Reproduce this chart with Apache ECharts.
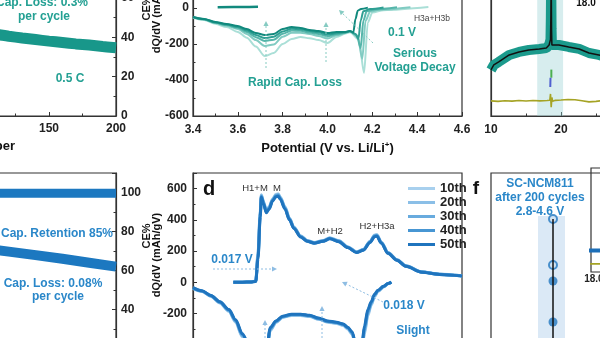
<!DOCTYPE html>
<html>
<head>
<meta charset="utf-8">
<script src="https://cdn.jsdelivr.net/npm/echarts@6/dist/echarts.min.js"></script>
<style>
html,body{margin:0;padding:0;background:#fff;}
#chart{width:600px;height:338px;}
</style>
</head>
<body>
<div id="chart"></div>
<script>
// ---------- Long-term cycling (cycle number vs. capacity / CE) ----------
const cycleTop = [100, 110, 120, 130, 140, 150, 160, 170, 180, 190, 200];
const capTop05C = [42.3, 41.5, 40.5, 39.6, 38.8, 38.0, 37.3, 36.6, 36.0, 35.3, 34.6];
const cycleBot = [100, 120, 140, 160, 180, 200];
const capBot = [71.5, 69.7, 67.9, 66.0, 64.0, 62.0];
const ceBot = [99.6, 99.6, 99.6, 99.6, 99.6, 99.6];

// ---------- dQ/dV, reduction branch (upper panel), 10th..50th cycle ----------
const topPot = [3.40, 3.45, 3.50, 3.55, 3.60, 3.64, 3.68, 3.72, 3.76, 3.80, 3.84, 3.88, 3.92, 3.96, 4.00, 4.04, 4.08, 4.10];
const topDis10 = [-55, -67, -88, -106, -133, -165, -214, -267, -250, -200, -172, -161, -168, -178, -194, -161, -142, -135];
const topDis20 = [-52, -64, -84, -99, -117, -144, -178, -211, -203, -160, -138, -137, -145, -155, -170, -152, -139, -130];
const topDis30 = [-51, -63, -82, -95, -110, -133, -162, -183, -176, -143, -125, -127, -136, -144, -158, -146, -137, -129];
const topDis40 = [-50, -62, -80, -92, -105, -125, -150, -167, -160, -130, -115, -118, -128, -135, -148, -140, -135, -128];
const topDis50 = [-50, -61, -78, -89, -100, -117, -139, -150, -144, -117, -106, -111, -122, -128, -139, -133, -133, -128];
const topTail10 = [[4.14, -175], [4.163, -360], [4.18, -80], [4.20, -25], [4.25, -12], [4.45, 5]];
const topTail20 = [[4.135, -160], [4.155, -282], [4.17, -70], [4.19, -20], [4.23, -10], [4.37, 4]];
const topTail30 = [[4.13, -150], [4.148, -222], [4.16, -70], [4.175, -18], [4.21, -8], [4.31, 4]];
const topTail40 = [[4.125, -145], [4.138, -172], [4.148, -70], [4.16, -18], [4.19, -6], [4.25, 3]];
const topTail50 = [[4.115, -136], [4.125, -60], [4.135, -15], [4.15, -5], [4.18, 2]];
const topCharge = [[3.51, 4], [3.58, 5], [3.65, 6], [3.69, 7]];

// ---------- dQ/dV (panel d), 10th..50th cycle ----------
const dChgPot = [3.58, 3.62, 3.66, 3.68, 3.69, 3.70, 3.705, 3.715, 3.727, 3.74, 3.755, 3.77, 3.78, 3.79, 3.81, 3.83, 3.85, 3.88, 3.91, 3.94, 3.98, 4.01, 4.05, 4.09, 4.13, 4.16, 4.19, 4.21, 4.22, 4.24, 4.27, 4.31, 4.35, 4.42, 4.50, 4.60];
const dChg10 = [0, 0, 3, 8, 190, 460, 560, 515, 458, 485, 534, 563, 567, 545, 485, 412, 354, 298, 267, 255, 267, 285, 267, 227, 195, 212, 263, 303, 306, 258, 191, 145, 106, 67, 52, 42];
const dChg20 = [0, 0, 3, 7, 180, 450, 557, 512, 455, 481, 530, 559, 563, 541, 481, 409, 351, 296, 266, 253, 265, 283, 265, 226, 193, 210, 261, 300, 303, 256, 189, 143, 105, 66, 51, 41];
const dChg30 = [0, 0, 2, 6, 170, 440, 553, 508, 452, 478, 527, 556, 560, 538, 478, 406, 349, 294, 264, 252, 264, 281, 263, 224, 192, 208, 259, 298, 300, 254, 188, 142, 104, 65, 51, 41];
const dChg40 = [0, 0, 2, 6, 160, 430, 550, 505, 448, 474, 524, 552, 556, 534, 474, 403, 347, 292, 263, 251, 263, 280, 262, 223, 191, 206, 257, 295, 298, 252, 186, 141, 103, 65, 50, 40];
const dChg50 = [0, 0, 2, 5, 150, 420, 545, 500, 445, 470, 520, 548, 551, 530, 470, 400, 345, 290, 262, 250, 262, 278, 260, 222, 190, 205, 255, 292, 295, 250, 185, 140, 102, 64, 50, 40];
const dDisPot = [3.40, 3.44, 3.48, 3.52, 3.56, 3.59, 3.62, 3.66, 3.70, 3.725, 3.745, 3.77, 3.80, 3.84, 3.88, 3.92, 3.96, 4.00, 4.04, 4.07, 4.09, 4.11, 4.13, 4.145, 4.155, 4.165, 4.18, 4.195, 4.21, 4.225, 4.25, 4.27, 4.285];
const dDis10 = [-39, -59, -91, -133, -187, -256, -350, -460, -520, -490, -310, -259, -226, -213, -213, -220, -238, -256, -264, -278, -300, -334, -450, -490, -420, -330, -215, -148, -92, -60, -30, -10, 0];
const dDis20 = [-38, -58, -89, -131, -184, -252, -345, -455, -515, -485, -305, -256, -224, -211, -211, -218, -236, -254, -262, -275, -296, -330, -445, -485, -410, -318, -205, -142, -88, -57, -29, -10, 0];
const dDis30 = [-37, -57, -88, -129, -181, -248, -340, -450, -510, -480, -300, -253, -222, -209, -209, -216, -234, -252, -260, -272, -293, -326, -440, -480, -400, -305, -195, -136, -84, -55, -28, -9, 0];
const dDis40 = [-36, -56, -86, -127, -178, -244, -335, -445, -505, -475, -295, -250, -220, -207, -207, -214, -232, -250, -258, -270, -290, -322, -435, -475, -390, -292, -185, -130, -80, -53, -27, -9, 0];
const dDis50 = [-35, -55, -85, -125, -175, -240, -330, -440, -500, -470, -290, -248, -218, -205, -205, -212, -230, -248, -256, -268, -288, -318, -430, -470, -380, -280, -175, -125, -77, -51, -26, -8, 0];
const cycleNames = ['10th', '20th', '30th', '40th', '50th'];

// ---------- XRD refinement (upper right) ----------
const xrdTheta = [10, 10.4, 11.1, 12.6, 14, 15.4, 16.9, 17.9, 18.3, 18.5, 18.55, 18.6, 18.65, 18.7, 19.7, 21.1, 22.6, 24, 25.4, 27];
const xrdObs = [39.7, 44, 46.6, 52.6, 55.2, 56.9, 57.8, 58.6, 61.2, 66, 85, 125, 75, 61.2, 61.2, 59.5, 57.8, 54.3, 52.6, 50];
const xrdFit = [39.7, 44, 46.6, 52.6, 55.2, 56.9, 57.8, 58.6, 61.2, 66, 85, 125, 75, 61.2, 61.2, 59.5, 57.8, 54.3, 52.6, 50];
const diffTheta = [10, 11, 12, 13, 14, 15, 16, 17, 18, 18.4, 18.5, 18.6, 18.7, 18.8, 19.2, 20, 21, 22, 23, 24, 25, 26];
const diffVals = [13, 12.6, 13.2, 12.8, 13.3, 12.9, 13.4, 13, 13.4, 13.6, 19, 7.5, 16, 12.8, 13.5, 13.8, 14.2, 14, 13.2, 12.2, 12.6, 13.4];
const braggA = [[18.62, 33], [18.62, 40]];
const braggB = [[18.47, 25], [18.5, 33]];
const xrdBand = [16.6, 20.3];

// ---------- Panel f: profile after 200 cycles ----------
const fProfile = [[31, 77], [31, 0]];
const fOpenPts = [[31, 77], [31, 54]];
const fFilledPts = [[31, 46], [31, 25.5]];
const fBand = [23.5, 37, 78.5];
const insetBlue = [[17.9, 20.6], [19.1, 20.6]];
const insetOlive = [[17.9, 7.8], [19.1, 7.8]];

// ---------- styling ----------
const FONT = '"Liberation Sans", Arial, Helvetica, sans-serif';
const TEAL = ['#aadfd7', '#80cbc2', '#55b5aa', '#2e9f93', '#11897d'];
const BLUE = ['#a8d0ee', '#8bbfe7', '#68abde', '#4796d3', '#1f74be'];
const TEAL_TXT = '#24a093';
const BLUE_TXT = '#2a87c9';
const AX = '#333';

function axisBase(extra) {
  return Object.assign({
    type: 'value',
    axisLine: { show: true, onZero: false, lineStyle: { color: AX, width: 1.2 } },
    axisTick: { show: true, inside: true, length: 4, lineStyle: { color: AX } },
    minorTick: { show: true, splitNumber: 2, length: 2.5, lineStyle: { color: AX } },
    axisLabel: { color: '#222', fontWeight: 'bold', fontSize: 12, fontFamily: FONT, margin: 5 },
    splitLine: { show: false }
  }, extra);
}
function hiddenAxis(extra) {
  return Object.assign({
    type: 'value',
    axisLine: { show: false }, axisTick: { show: false }, axisLabel: { show: false }, splitLine: { show: false }
  }, extra);
}
function gridBox(left, top, width, height) {
  return { left, top, width, height, outerBoundsMode: 'none', containLabel: false,
    show: true, borderColor: AX, borderWidth: 1.2, backgroundColor: 'transparent' };
}
function pair(xs, ys) { return xs.map((x, i) => [x, ys[i]]); }

function txt(x, y, text, fill, size, weight, rot, align) {
  const el = {
    type: 'text', x: x, y: y, silent: true, z: 100,
    style: {
      text: text, fill: fill,
      font: (weight || 'bold') + ' ' + size + 'px ' + FONT,
      align: align || 'center', verticalAlign: 'middle',
      textAlign: align || 'center', textVerticalAlign: 'middle'
    }
  };
  if (rot) el.rotation = rot;
  return el;
}
function arrow(x1, y1, x2, y2, color) {
  const dx = x2 - x1, dy = y2 - y1, L = Math.hypot(dx, dy);
  const ux = dx / L, uy = dy / L, s = 5, w = 2.6;
  const bx = x2 - ux * s, by = y2 - uy * s;
  return [
    { type: 'line', silent: true, z: 90, shape: { x1: x1, y1: y1, x2: bx, y2: by },
      style: { stroke: color, lineWidth: 1, lineDash: [2, 2] } },
    { type: 'polygon', silent: true, z: 90,
      shape: { points: [[x2, y2], [bx - uy * w, by + ux * w], [bx + uy * w, by - ux * w]] },
      style: { fill: color } }
  ];
}

const series = [];
// cycling, top (0.5 C)
series.push({ type: 'line', xAxisIndex: 0, yAxisIndex: 0, data: pair(cycleTop, capTop05C), showSymbol: false, smooth: 0.4,
  lineStyle: { color: '#18978a', width: 11 } });
// cycling, bottom (capacity and CE)
series.push({ type: 'line', xAxisIndex: 1, yAxisIndex: 1, data: pair(cycleBot, ceBot), showSymbol: false,
  lineStyle: { color: '#1c78c0', width: 9 } });
series.push({ type: 'line', xAxisIndex: 1, yAxisIndex: 1, data: pair(cycleBot, capBot), showSymbol: false,
  lineStyle: { color: '#1c78c0', width: 10 } });

// dQ/dV upper panel
const topDis = [topDis10, topDis20, topDis30, topDis40, topDis50];
const topTails = [topTail10, topTail20, topTail30, topTail40, topTail50];
topDis.forEach((vals, i) => {
  series.push({ type: 'line', name: 'reduction ' + cycleNames[i], xAxisIndex: 2, yAxisIndex: 2,
    data: pair(topPot, vals).concat(topTails[i]), showSymbol: false, smooth: 0.3, smoothMonotone: 'x',
    lineStyle: { color: TEAL[i], width: 2 } });
});
series.push({ type: 'line', xAxisIndex: 2, yAxisIndex: 2, data: topCharge, showSymbol: false,
  lineStyle: { color: TEAL[4], width: 2.5 } });

// dQ/dV panel d
const dChg = [dChg10, dChg20, dChg30, dChg40, dChg50];
const dDis = [dDis10, dDis20, dDis30, dDis40, dDis50];
cycleNames.forEach((name, i) => {
  series.push({ type: 'line', name: name, xAxisIndex: 3, yAxisIndex: 3, data: pair(dChgPot, dChg[i]),
    showSymbol: false, smooth: 0.3, smoothMonotone: 'x', color: BLUE[i], lineStyle: { color: BLUE[i], width: 3 } });
  series.push({ type: 'line', name: name, xAxisIndex: 3, yAxisIndex: 3, data: pair(dDisPot, dDis[i]),
    showSymbol: false, smooth: 0.3, smoothMonotone: 'x', color: BLUE[i], lineStyle: { color: BLUE[i], width: 3 } });
});

// XRD panel
series.push({ type: 'line', xAxisIndex: 4, yAxisIndex: 4, data: pair(xrdTheta, xrdObs), showSymbol: false,
  lineStyle: { color: '#1b9a8c', width: 10 },
  markArea: { silent: true, itemStyle: { color: 'rgba(150,208,210,0.38)' }, data: [[{ xAxis: xrdBand[0] }, { xAxis: xrdBand[1] }]] } });
series.push({ type: 'line', xAxisIndex: 4, yAxisIndex: 4, data: pair(xrdTheta, xrdFit), showSymbol: false,
  lineStyle: { color: '#111', width: 1.5 } });
series.push({ type: 'line', xAxisIndex: 4, yAxisIndex: 4, data: pair(diffTheta, diffVals), showSymbol: false,
  lineStyle: { color: '#a5a324', width: 1.6 } });
series.push({ type: 'line', xAxisIndex: 4, yAxisIndex: 4, data: braggA, showSymbol: false, lineStyle: { color: '#4caf50', width: 2 } });
series.push({ type: 'line', xAxisIndex: 4, yAxisIndex: 4, data: braggB, showSymbol: false, lineStyle: { color: '#5060d0', width: 2 } });

// panel f
series.push({ type: 'line', xAxisIndex: 5, yAxisIndex: 5, data: fProfile, showSymbol: false,
  lineStyle: { color: '#111', width: 1.5 },
  markArea: { silent: true, itemStyle: { color: 'rgba(190,215,238,0.55)' },
    data: [[{ coord: [fBand[0], 0] }, { coord: [fBand[1], fBand[2]] }]] } });
series.push({ type: 'scatter', xAxisIndex: 5, yAxisIndex: 5, data: fOpenPts, symbol: 'circle', symbolSize: 8,
  itemStyle: { color: '#cfe2f3', borderColor: '#2378c0', borderWidth: 2 } });
series.push({ type: 'scatter', xAxisIndex: 5, yAxisIndex: 5, data: fFilledPts, symbol: 'circle', symbolSize: 9,
  itemStyle: { color: '#2378c0' } });
series.push({ type: 'line', xAxisIndex: 6, yAxisIndex: 6, data: insetBlue, showSymbol: false, lineStyle: { color: '#1d6fb8', width: 4 } });
series.push({ type: 'line', xAxisIndex: 6, yAxisIndex: 6, data: insetOlive, showSymbol: false, lineStyle: { color: '#a5a324', width: 1.6 } });

const graphics = [
  // upper-left annotations
  txt(42, 3, 'Cap. Loss: 0.3%', TEAL_TXT, 12),
  txt(44, 17, 'per cycle', TEAL_TXT, 12),
  txt(70, 79, '0.5 C', TEAL_TXT, 12),
  txt(15, 146, 'Cycle Number', '#111', 13, 'bold', 0, 'right'),
  txt(147, 8, 'CE%', '#111', 11, 'bold', Math.PI / 2),
  txt(157, 11, 'dQ/dV (mAh/gV)', '#111', 11, 'bold', Math.PI / 2),
  // upper dQ/dV annotations
  txt(295, 83, 'Rapid Cap. Loss', TEAL_TXT, 12),
  txt(402, 33, '0.1 V', TEAL_TXT, 12),
  txt(415, 54, 'Serious', TEAL_TXT, 12),
  txt(415, 68, 'Voltage Decay', TEAL_TXT, 12),
  txt(432, 19, 'H3a+H3b', '#444', 8.5, 'normal'),
  txt(586, 3, '18.0', '#111', 10),
  // lower-left annotations
  txt(57, 234, 'Cap. Retention 85%', BLUE_TXT, 12),
  txt(53, 284, 'Cap. Loss: 0.08%', BLUE_TXT, 12),
  txt(58, 297, 'per cycle', BLUE_TXT, 12),
  txt(147, 236, 'CE%', '#111', 11, 'bold', Math.PI / 2),
  txt(157, 255, 'dQ/dV (mAh/gV)', '#111', 11, 'bold', Math.PI / 2),
  // panel d
  txt(209, 189, 'd', '#111', 20),
  txt(255, 188, 'H1+M', '#333', 9.5, 'normal'),
  txt(277, 188, 'M', '#333', 9.5, 'normal'),
  txt(330, 231, 'M+H2', '#333', 9.5, 'normal'),
  txt(377, 226, 'H2+H3a', '#333', 9.5, 'normal'),
  txt(232, 260, '0.017 V', BLUE_TXT, 12),
  txt(404, 306, '0.018 V', BLUE_TXT, 12),
  txt(413, 331, 'Slight', BLUE_TXT, 12),
  // panel f
  txt(476, 189, 'f', '#111', 19),
  txt(540, 184, 'SC-NCM811', BLUE_TXT, 12),
  txt(540, 198, 'after 200 cycles', BLUE_TXT, 12),
  txt(540, 212, '2.8-4.6 V', BLUE_TXT, 12)
].concat(
  arrow(266, 68, 266, 21, '#86cbc2'),
  arrow(326, 62, 326, 22, '#86cbc2'),
  arrow(373, 43, 339, 10, '#86cbc2'),
  arrow(213, 269, 277, 269, '#8ebde3'),
  arrow(383, 302, 342, 282, '#8ebde3'),
  arrow(265, 338, 265, 320, '#8ebde3'),
  arrow(322, 338, 322, 306, '#8ebde3')
);

const option = {
  animation: false,
  backgroundColor: '#fff',
  textStyle: { fontFamily: FONT },
  grid: [
    gridBox(-152, -81, 268, 197),      // cycling, top
    gridBox(-152, 173, 268, 214.5),    // cycling, bottom
    gridBox(193, -100, 269, 216),      // dQ/dV, top
    gridBox(193, 173, 269, 265.2),     // dQ/dV, panel d
    gridBox(491, -10, 140, 126),       // XRD
    gridBox(491, 173, 200, 200),       // panel f
    gridBox(591, 168, 60, 104)         // inset in f
  ],
  xAxis: [
    axisBase({ gridIndex: 0, min: 0, max: 200, interval: 50, axisLabel: { color: '#222', fontWeight: 'bold', fontSize: 12, fontFamily: FONT, margin: 7 } }),
    axisBase({ gridIndex: 1, min: 0, max: 200, interval: 50 }),
    axisBase({ gridIndex: 2, min: 3.4, max: 4.6, interval: 0.2,
      axisLabel: { color: '#222', fontWeight: 'bold', fontSize: 12, fontFamily: FONT, margin: 8, formatter: v => v.toFixed(1) },
      name: 'Potential (V vs. Li/Li{sup|+})', nameLocation: 'middle', nameGap: 25,
      nameTextStyle: { color: '#111', fontWeight: 'bold', fontSize: 13, fontFamily: FONT,
        rich: { sup: { fontSize: 8, fontWeight: 'bold', fontFamily: FONT, color: '#111', verticalAlign: 'top', padding: [0, 0, 7, 0] } } } }),
    axisBase({ gridIndex: 3, min: 3.4, max: 4.6, interval: 0.2 }),
    axisBase({ gridIndex: 4, min: 10, max: 30, interval: 10, axisLabel: { color: '#222', fontWeight: 'bold', fontSize: 12, fontFamily: FONT, margin: 8 } }),
    hiddenAxis({ gridIndex: 5, min: 0, max: 100 }),
    hiddenAxis({ gridIndex: 6, min: 17.95, max: 19.0,
      axisLabel: { show: true, customValues: [18], formatter: v => v.toFixed(1), color: '#222', fontWeight: 'bold', fontSize: 10, fontFamily: FONT, margin: 2 } })
  ],
  yAxis: [
    axisBase({ gridIndex: 0, position: 'right', min: 0, max: 100, interval: 20 }),
    axisBase({ gridIndex: 1, position: 'right', min: 0, max: 110, interval: 20, axisLabel: { color: '#222', fontWeight: 'bold', fontSize: 12, fontFamily: FONT, margin: 5, showMaxLabel: false } }),
    axisBase({ gridIndex: 2, min: -600, max: 600, interval: 200, axisLabel: { color: '#222', fontWeight: 'bold', fontSize: 12, fontFamily: FONT, margin: 4 } }),
    axisBase({ gridIndex: 3, min: -1000, max: 700, interval: 200, axisLabel: { color: '#222', fontWeight: 'bold', fontSize: 12, fontFamily: FONT, margin: 6, showMaxLabel: false } }),
    hiddenAxis({ gridIndex: 4, min: 0, max: 108.6, axisLine: { show: true, lineStyle: { color: AX, width: 1.2 } } }),
    hiddenAxis({ gridIndex: 5, min: 0, max: 100 }),
    hiddenAxis({ gridIndex: 6, min: 0, max: 100 })
  ],
  legend: {
    data: cycleNames, orient: 'vertical', left: 403, top: 177,
    itemWidth: 27, itemHeight: 3, itemGap: 1, icon: 'rect', selectedMode: false,
    textStyle: { color: '#222', fontWeight: 'bold', fontSize: 13, fontFamily: FONT }
  },
  graphic: graphics,
  series: series
};

const chart = echarts.init(document.getElementById('chart'), null, { renderer: 'canvas' });
chart.setOption(option);
</script>
</body>
</html>
